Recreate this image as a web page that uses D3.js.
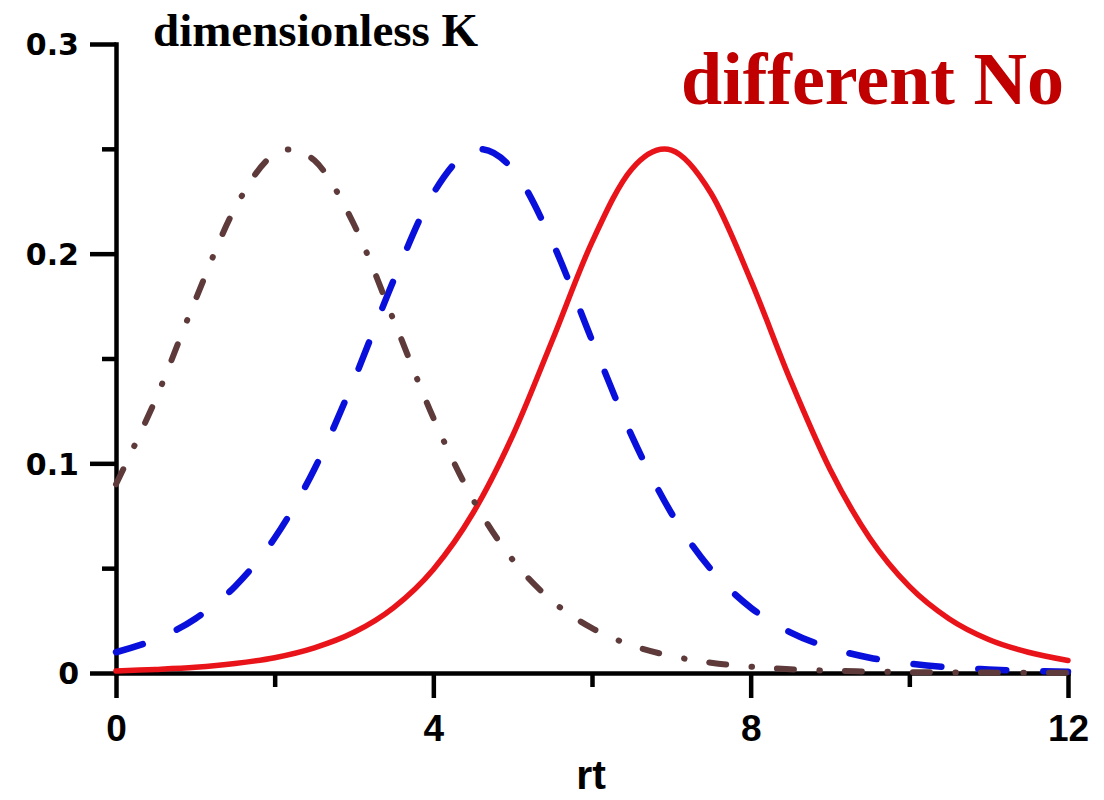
<!DOCTYPE html>
<html>
<head>
<meta charset="utf-8">
<script src="https://cdn.jsdelivr.net/npm/d3@7"></script>
<style>
  html, body { margin: 0; padding: 0; background: #fff; }
  svg { display: block; }
</style>
</head>
<body>
<svg id="chart" width="1104" height="800"></svg>
<script>
// Dimensionless growth rate K versus rt for three initial populations No
const rtGrid = [0, 0.5, 1, 1.5, 2, 2.5, 3, 3.5, 4, 4.5, 5, 5.5, 6, 6.5, 7, 7.5, 8, 8.5, 9, 9.5, 10, 10.5, 11, 11.5, 12];

// largest No (dash-dot, brown)
const kBrown = [0.090, 0.1306, 0.1779, 0.2217, 0.2475, 0.2445, 0.2139, 0.1683, 0.1217, 0.0828, 0.0540, 0.0343, 0.0214, 0.0132, 0.0081, 0.0049, 0.0030, 0.0018, 0.0011, 0.0007, 0.0004, 0.0003, 0.0002, 0.0001, 0.0001];
// middle No (dashed, blue)
const kBlue = [0.0099, 0.0160, 0.0259, 0.0413, 0.0644, 0.0972, 0.1398, 0.1874, 0.2288, 0.2494, 0.2403, 0.2055, 0.1587, 0.1132, 0.0763, 0.0494, 0.0312, 0.0194, 0.0120, 0.0073, 0.0045, 0.0027, 0.0017, 0.0010, 0.0006];
// smallest No (solid, red)
const kRed = [0.0010, 0.0017, 0.0027, 0.0045, 0.0073, 0.0120, 0.0194, 0.0312, 0.0494, 0.0763, 0.1132, 0.1587, 0.2055, 0.2403, 0.2494, 0.2288, 0.1874, 0.1398, 0.0972, 0.0644, 0.0413, 0.0259, 0.0160, 0.0099, 0.0060];

const xMajor = [0, 4, 8, 12];
const xMinor = [2, 6, 10];
const yMajor = [0, 0.1, 0.2, 0.3];
const yMinor = [0.05, 0.15, 0.25];
const yTickLabels = ["0", "0.1", "0.2", "0.3"];

const titleText = "dimensionless K";
const noteText = "different No";
const xTitle = "rt";

const svg = d3.select("#chart");

const x = d3.scaleLinear().domain([0, 12]).range([116, 1068]);
const y = d3.scaleLinear().domain([0, 0.3]).range([673, 44]);

const axisColor = "#000";
const axisWidth = 4.5;
const sansFont = "'Liberation Sans', Arial, sans-serif";
const wideSans = "'DejaVu Sans', Verdana, sans-serif";
const serifFont = "'Liberation Serif', 'Times New Roman', serif";

// ---- axes ----
const gx = svg.append("g").attr("transform", `translate(0,${y(0)})`);
gx.call(d3.axisBottom(x).tickValues(xMajor).tickSize(25).tickSizeOuter(0).tickFormat(d3.format("d")));
const gxMinor = svg.append("g").attr("transform", `translate(0,${y(0)})`);
gxMinor.call(d3.axisBottom(x).tickValues(xMinor).tickSize(14).tickSizeOuter(0).tickFormat(""));

const gy = svg.append("g").attr("transform", `translate(${x(0)},0)`);
gy.call(d3.axisLeft(y).tickValues(yMajor).tickSize(26).tickSizeOuter(0)
  .tickFormat((d, i) => yTickLabels[i]));
const gyMinor = svg.append("g").attr("transform", `translate(${x(0)},0)`);
gyMinor.call(d3.axisLeft(y).tickValues(yMinor).tickSize(14).tickSizeOuter(0).tickFormat(""));

[gx, gxMinor, gy, gyMinor].forEach(g => {
  g.select(".domain").attr("stroke", axisColor).attr("stroke-width", axisWidth).attr("stroke-linecap", "square");
  g.selectAll(".tick line").attr("stroke", axisColor).attr("stroke-width", axisWidth);
});
gxMinor.select(".domain").remove();
gyMinor.select(".domain").remove();

gx.selectAll(".tick text")
  .attr("y", 68).attr("dy", 0)
  .attr("font-family", sansFont).attr("font-weight", "bold")
  .attr("font-size", 37).attr("fill", "#000");

gy.selectAll(".tick text")
  .attr("x", -37).attr("dy", "0.36em")
  .attr("font-family", wideSans).attr("font-weight", "bold")
  .attr("font-size", 30).attr("fill", "#000");

// ---- curves ----
const line = d3.line()
  .x(d => x(d[0]))
  .y(d => y(d[1]))
  .curve(d3.curveCatmullRom.alpha(0));

const series = [
  { values: kRed,   color: "#e8141a", width: 5.5, dash: null },
  { values: kBlue,  color: "#0a10dc", width: 6.5, dash: "28,37" },
  { values: kBrown, color: "#5e3a3a", width: 6,   dash: "17,25.5,0.5,25" }
];

series.forEach(s => {
  svg.append("path")
    .datum(rtGrid.map((t, i) => [t, s.values[i]]))
    .attr("fill", "none")
    .attr("stroke", s.color)
    .attr("stroke-width", s.width)
    .attr("stroke-linecap", "round")
    .attr("stroke-linejoin", "round")
    .attr("stroke-dasharray", s.dash)
    .attr("d", line);
});

// ---- text ----
svg.append("text")
  .attr("x", 153).attr("y", 46)
  .attr("font-family", serifFont).attr("font-weight", "bold")
  .attr("font-size", 47).attr("fill", "#000")
  .text(titleText);

svg.append("text")
  .attr("x", 681).attr("y", 104)
  .attr("font-family", serifFont).attr("font-weight", "bold")
  .attr("font-size", 74).attr("fill", "#c00000")
  .text(noteText);

svg.append("text")
  .attr("x", 591).attr("y", 789)
  .attr("text-anchor", "middle")
  .attr("font-family", sansFont).attr("font-weight", "bold")
  .attr("font-size", 41).attr("fill", "#000")
  .text(xTitle);
</script>
</body>
</html>
